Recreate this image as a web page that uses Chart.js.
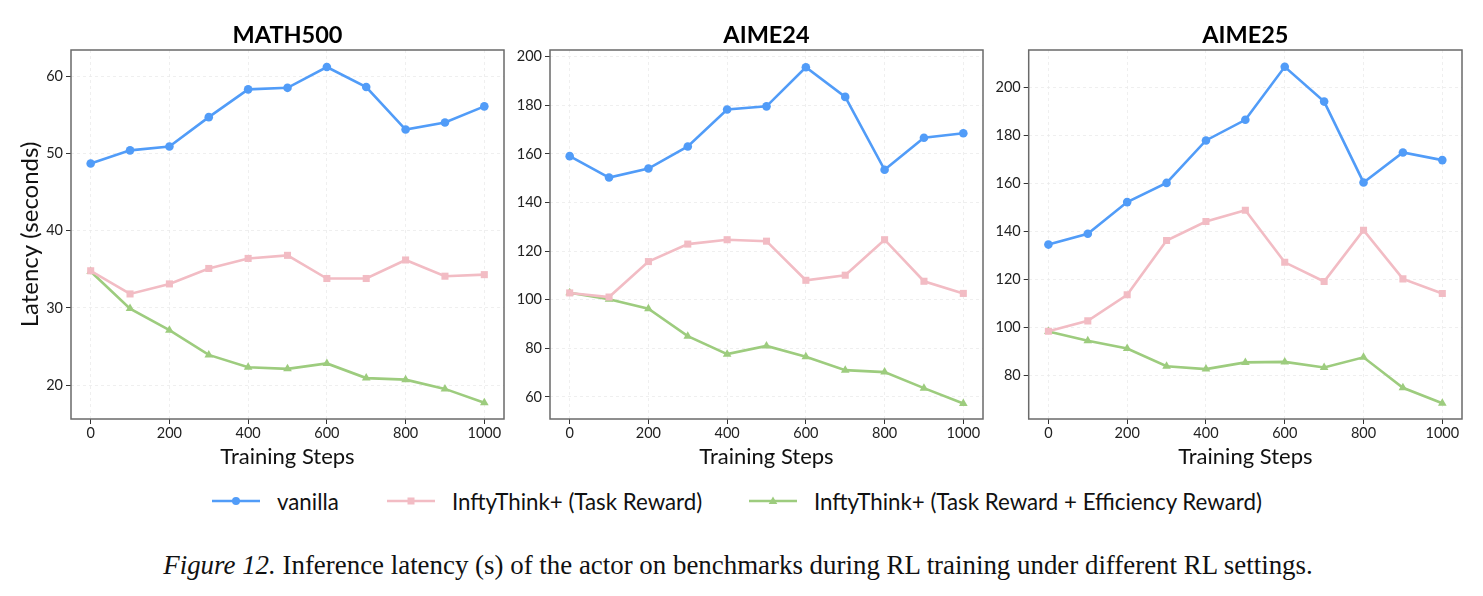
<!DOCTYPE html>
<html>
<head>
<meta charset="utf-8">
<script src="https://cdn.jsdelivr.net/npm/chart.js@4.4.1/dist/chart.umd.min.js"></script>
<style>
  html, body { margin:0; padding:0; background:#fff; }
  body { width:1483px; height:596px; position:relative; overflow:hidden; font-family:Lato, "Noto Sans", sans-serif; }
  canvas.panel { position:absolute; top:0; }
  .legend-item { position:absolute; top:486px; height:30px; display:flex; align-items:center; font-size:22.3px; color:#111; white-space:nowrap; }
  .legend-item svg { margin-right:17px; }
  #caption { position:absolute; left:0; width:1476px; top:550px; text-align:center; font-family:"Liberation Serif", "DejaVu Serif", serif; font-size:26.9px; color:#111; white-space:nowrap; }
  #caption i { font-style:italic; }
</style>
</head>
<body>
<canvas id="c0" class="panel" width="510" height="475" style="left:0px"></canvas>
<canvas id="c1" class="panel" width="490" height="475" style="left:505px"></canvas>
<canvas id="c2" class="panel" width="483" height="475" style="left:990px"></canvas>
<div id="legend"></div>
<div id="caption"><i>Figure 12.</i> Inference latency (s) of the actor on benchmarks during RL training under different RL settings.</div>
<script>
// ---- data ----
const steps = [0, 100, 200, 300, 400, 500, 600, 700, 800, 900, 1000];
const xTickValues = [0, 200, 400, 600, 800, 1000];
const benchmarks = ['MATH500', 'AIME24', 'AIME25'];
const seriesNames = ['vanilla', 'InftyThink+ (Task Reward)', 'InftyThink+ (Task Reward + Efficiency Reward)'];

const math500Vanilla = [48.7, 50.4, 50.9, 54.7, 58.3, 58.5, 61.2, 58.6, 53.1, 54.0, 56.1];
const math500Task    = [34.8, 31.8, 33.1, 35.1, 36.4, 36.8, 33.8, 33.8, 36.2, 34.1, 34.3];
const math500Eff     = [34.7, 29.9, 27.1, 23.9, 22.3, 22.1, 22.8, 20.9, 20.7, 19.5, 17.7];

const aime24Vanilla  = [159.1, 150.3, 154.0, 163.1, 178.3, 179.6, 195.7, 183.5, 153.5, 166.7, 168.5];
const aime24Task     = [102.8, 101.1, 115.7, 122.9, 124.7, 124.1, 108.0, 110.1, 124.7, 107.6, 102.6];
const aime24Eff      = [102.9, 100.2, 96.3, 85.0, 77.6, 81.0, 76.5, 71.0, 70.2, 63.6, 57.3];

const aime25Vanilla  = [134.4, 138.9, 152.1, 160.1, 177.8, 186.4, 208.5, 194.0, 160.3, 172.8, 169.6];
const aime25Task     = [98.3, 102.6, 113.5, 136.1, 144.0, 148.7, 127.0, 119.0, 140.4, 120.1, 114.0];
const aime25Eff      = [98.2, 94.3, 91.1, 83.7, 82.5, 85.3, 85.5, 83.2, 87.4, 74.7, 68.3];

const math500YTicks = [20, 30, 40, 50, 60];
const aime24YTicks  = [60, 80, 100, 120, 140, 160, 180, 200];
const aime25YTicks  = [80, 100, 120, 140, 160, 180, 200];

const math500YRange = [15.6, 63.4];
const aime24YRange  = [50.9, 202.8];
const aime25YRange  = [61.7, 215.5];
const xRange = [-50, 1050];

// ---- styles ----
const colors = ['#519cf8', '#f2bcc4', '#9dcc7e'];
const pointStyles = ['circle', 'rect', 'triangle'];
const pointRadii = [4.3, 5, 5];
const FONT = 'Lato';

const panels = [
  { id: 'c0', title: benchmarks[0], series: [math500Vanilla, math500Task, math500Eff], yTicks: math500YTicks, yRange: math500YRange, yWidth: 71, padRight: 6, yTitle: 'Latency (seconds)' },
  { id: 'c1', title: benchmarks[1], series: [aime24Vanilla, aime24Task, aime24Eff], yTicks: aime24YTicks, yRange: aime24YRange, yWidth: 45, padRight: 12, yTitle: '' },
  { id: 'c2', title: benchmarks[2], series: [aime25Vanilla, aime25Task, aime25Eff], yTicks: aime25YTicks, yRange: aime25YRange, yWidth: 38.7, padRight: 11, yTitle: '' }
];

const framePlugin = {
  id: 'frame',
  afterDatasetsDraw(chart) {
    const { ctx, chartArea: a } = chart;
    ctx.save();
    ctx.strokeStyle = '#6a6a6a';
    ctx.lineWidth = 1.5;
    ctx.strokeRect(a.left, a.top, a.right - a.left, a.bottom - a.top);
    ctx.restore();
  }
};

function gridOpts() {
  return { color: '#ebebeb', lineWidth: 0.8, borderDash: [3, 3], tickColor: '#333', tickLength: 5, tickWidth: 1, tickBorderDash: [] };
}

panels.forEach(p => {
  const datasets = p.series.map((vals, i) => ({
    label: seriesNames[i],
    data: steps.map((s, k) => ({ x: s, y: vals[k] })),
    borderColor: colors[i],
    backgroundColor: colors[i],
    borderWidth: 2.6,
    pointStyle: pointStyles[i],
    pointRadius: pointRadii[i],
    pointBorderWidth: 0,
    pointBackgroundColor: colors[i],
    tension: 0,
    fill: false
  }));
  new Chart(document.getElementById(p.id), {
    type: 'line',
    data: { datasets },
    options: {
      responsive: false,
      animation: false,
      devicePixelRatio: 1,
      layout: { padding: { left: 0, right: p.padRight, top: 0, bottom: 0 } },
      plugins: {
        legend: { display: false },
        tooltip: { enabled: false },
        title: {
          display: true, text: p.title, fullSize: false, color: '#000',
          font: { family: FONT, size: 23.5, weight: 'bold', lineHeight: 1 },
          padding: { top: 23.5, bottom: 3 }
        }
      },
      scales: {
        x: {
          type: 'linear', min: xRange[0], max: xRange[1],
          afterBuildTicks: s => { s.ticks = xTickValues.map(v => ({ value: v })); },
          afterFit: s => { s.height = 56; },
          ticks: { font: { family: FONT, size: 14.5 }, color: '#222', padding: 1, maxRotation: 0, callback: v => String(v) },
          grid: gridOpts(),
          border: { display: false, dash: [3, 3] },
          title: { display: true, text: 'Training Steps', color: '#111', font: { family: FONT, size: 22 }, padding: { top: 0, bottom: 5 } }
        },
        y: {
          type: 'linear', min: p.yRange[0], max: p.yRange[1],
          afterBuildTicks: s => { s.ticks = p.yTicks.map(v => ({ value: v })); },
          afterFit: s => { s.width = p.yWidth; },
          ticks: { font: { family: FONT, size: 14.5 }, color: '#222', padding: 3, callback: v => String(v) },
          grid: gridOpts(),
          border: { display: false, dash: [3, 3] },
          title: { display: !!p.yTitle, text: p.yTitle, color: '#111', font: { family: FONT, size: 24 }, padding: { top: 16, bottom: 0 } }
        }
      }
    },
    plugins: [framePlugin]
  });
});

// ---- legend (HTML) ----
const legendX = [212, 387, 749];
const legend = document.getElementById('legend');
seriesNames.forEach((name, i) => {
  const item = document.createElement('div');
  item.className = 'legend-item';
  item.style.left = legendX[i] + 'px';
  let marker;
  if (pointStyles[i] === 'circle') marker = `<circle cx="24" cy="10" r="4" fill="${colors[i]}"/>`;
  else if (pointStyles[i] === 'rect') marker = `<rect x="20.5" y="6.5" width="7" height="7" fill="${colors[i]}"/>`;
  else marker = `<polygon points="24,5.5 28.3,13 19.7,13" fill="${colors[i]}"/>`;
  item.innerHTML = `<svg width="48" height="20" viewBox="0 0 48 20"><line x1="0" y1="10" x2="48" y2="10" stroke="${colors[i]}" stroke-width="2.6"/>${marker}</svg><span>${name}</span>`;
  legend.appendChild(item);
});
</script>
</body>
</html>
